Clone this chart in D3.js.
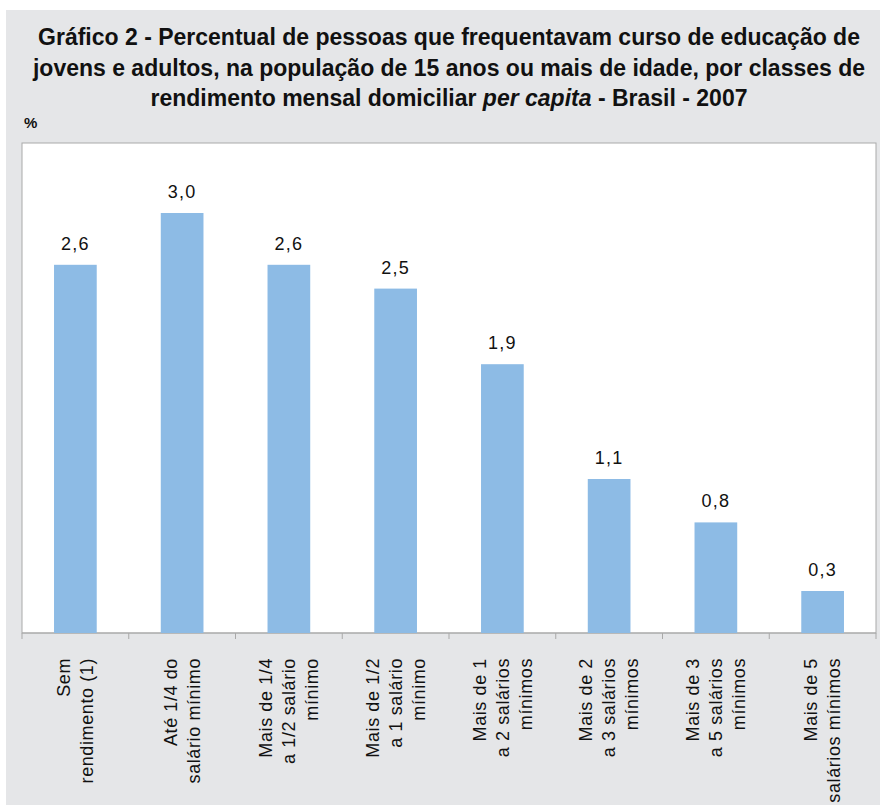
<!DOCTYPE html>
<html lang="pt">
<head>
<meta charset="utf-8">
<style type="text/css">
    body { margin: 0; background: #ffffff; }
    .title_text {
        font-family: "Liberation Sans", Arial, sans-serif;
        font-size: 23px;
        font-weight: bold;
        fill: #111;
    }
    .value_text {
        font-family: "Liberation Sans", Arial, sans-serif;
        font-size: 18px;
        letter-spacing: 1.2px;
        fill: #111;
    }
    .cat_text {
        font-family: "Liberation Sans", Arial, sans-serif;
        font-size: 18px;
        letter-spacing: 0.6px;
        fill: #111;
    }
</style>
</head>
<body>
<div id="graph"></div>
<script src="https://cdn.jsdelivr.net/npm/d3@7/dist/d3.min.js"></script>
<script type="text/javascript">
    // data (bar heights; labels show one decimal)
    var categories = [
        ["Sem", "rendimento (1)"],
        ["Até 1/4 do", "salário mínimo"],
        ["Mais de 1/4", "a 1/2 salário", "mínimo"],
        ["Mais de 1/2", "a 1 salário", "mínimo"],
        ["Mais de 1", "a 2 salários", "mínimos"],
        ["Mais de 2", "a 3 salários", "mínimos"],
        ["Mais de 3", "a 5 salários", "mínimos"],
        ["Mais de 5", "salários mínimos"]
    ];
    var values = [2.63, 3.0, 2.63, 2.46, 1.92, 1.1, 0.79, 0.3];
    var titleLines = [
        "Gráfico 2 - Percentual de pessoas que frequentavam curso de educação de",
        "jovens e adultos, na população de 15 anos ou mais de idade, por classes de",
        "rendimento mensal domiciliar |per capita| - Brasil - 2007"
    ];
    var yMax = 3.5;

    var W = 880, H = 805;
    var plot = {left: 22, right: 876, top: 143, bottom: 633};

    var svg = d3.select("#graph").append("svg")
        .attr("width", W)
        .attr("height", H);

    // grey panel
    svg.append("rect")
        .attr("x", 6).attr("y", 10)
        .attr("width", W - 6).attr("height", H - 10)
        .attr("fill", "#e5e6e8");

    // title (| marks italic part)
    titleLines.forEach(function(line, i) {
        var t = svg.append("text")
            .attr("class", "title_text")
            .attr("x", 449)
            .attr("y", 45 + i * 30.5)
            .attr("text-anchor", "middle");
        line.split("|").forEach(function(part, j) {
            t.append("tspan")
                .style("font-style", j % 2 ? "italic" : "normal")
                .text(part);
        });
    });

    svg.append("text")
        .attr("class", "title_text")
        .attr("x", 24).attr("y", 128)
        .style("font-size", "15px")
        .text("%");

    // plot area
    svg.append("rect")
        .attr("x", plot.left).attr("y", plot.top)
        .attr("width", plot.right - plot.left)
        .attr("height", plot.bottom - plot.top)
        .attr("fill", "#ffffff")
        .attr("stroke", "#a9a9a9")
        .attr("stroke-width", 1);

    var idx = d3.range(values.length);
    var x = d3.scaleBand()
        .domain(idx)
        .range([plot.left, plot.right]);
    var y = d3.scaleLinear()
        .domain([0, yMax])
        .range([plot.bottom, plot.top]);

    var barW = x.bandwidth() * 0.4;

    // axis line + ticks at band edges
    var axis = svg.append("g")
        .attr("transform", "translate(0," + plot.bottom + ")");
    axis.append("line")
        .attr("x1", plot.left).attr("x2", plot.right)
        .attr("stroke", "#a9a9a9");
    axis.selectAll(".tick")
        .data(d3.range(values.length + 1))
        .enter()
        .append("line")
        .attr("x1", function(d) { return plot.left + d * x.step(); })
        .attr("x2", function(d) { return plot.left + d * x.step(); })
        .attr("y1", 0).attr("y2", 6)
        .attr("stroke", "#a9a9a9");

    svg.selectAll(".bar")
        .data(values)
        .enter()
        .append("rect")
        .attr("class", "bar")
        .attr("x", function(d, i) { return x(i) + (x.bandwidth() - barW) / 2; })
        .attr("y", function(d) { return y(d); })
        .attr("width", barW)
        .attr("height", function(d) { return y(0) - y(d); })
        .attr("fill", "#8dbbe5");

    var fmt = function(v) { return d3.format(".1f")(v).replace(".", ","); };
    svg.selectAll(".value_text")
        .data(values)
        .enter()
        .append("text")
        .attr("class", "value_text")
        .attr("x", function(d, i) { return x(i) + x.bandwidth() / 2; })
        .attr("y", function(d) { return y(d) - 15; })
        .attr("text-anchor", "middle")
        .text(fmt);

    // rotated category labels
    var lineGap = 23;
    categories.forEach(function(lines, i) {
        var cx = x(i) + x.bandwidth() / 2;
        lines.forEach(function(s, j) {
            var off = (j - (lines.length - 1) / 2) * lineGap;
            svg.append("text")
                .attr("class", "cat_text")
                .attr("transform", "translate(" + (cx + off) + "," + 658 + ") rotate(-90)")
                .attr("text-anchor", "end")
                .attr("dy", "0.35em")
                .text(s);
        });
    });
</script>
</body>
</html>
